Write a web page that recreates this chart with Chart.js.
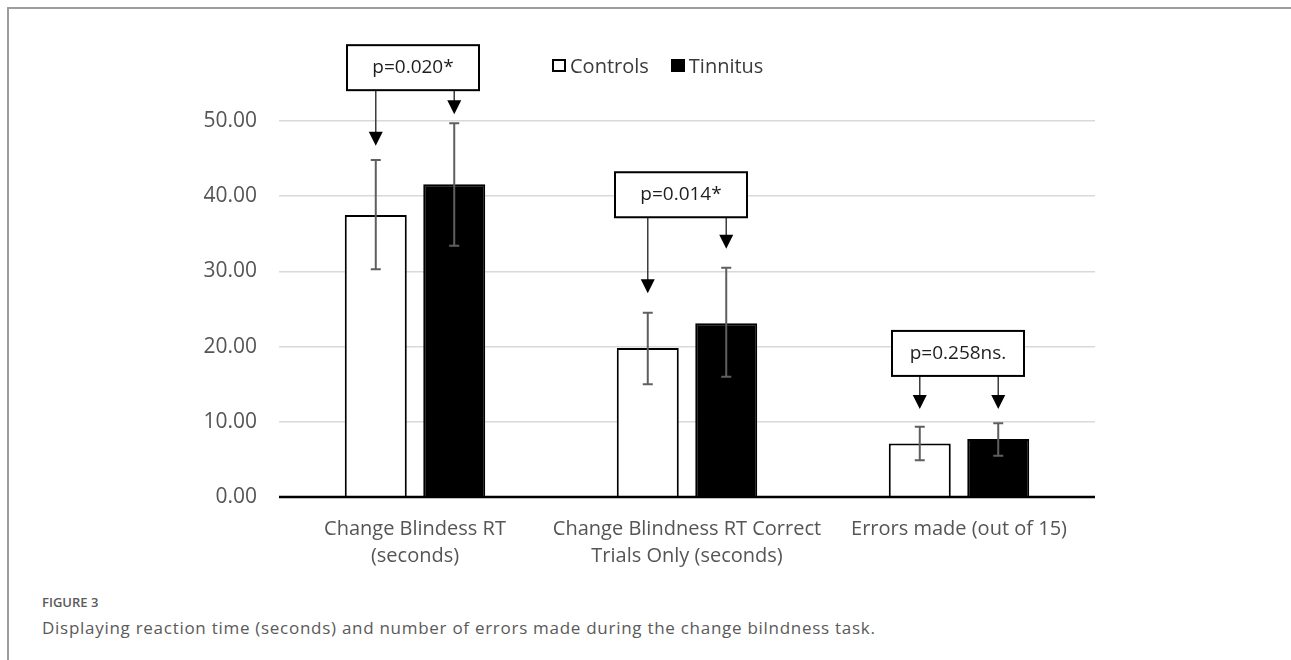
<!DOCTYPE html>
<html>
<head>
<meta charset="utf-8">
<script src="https://cdn.jsdelivr.net/npm/chart.js@4.4.1/dist/chart.umd.min.js"></script>
<style>
    html, body { margin: 0; padding: 0; background: #fff; }
    body { width: 1291px; height: 660px; position: relative; overflow: hidden; font-family: 'Open Sans', sans-serif; }
    .frame { position: absolute; left: 7px; top: 7px; width: 1300px; height: 700px; border-left: 2px solid #9d9d9d; border-top: 2px solid #9d9d9d; }
    .chart-wrap { position: absolute; left: 0; top: 0; width: 1291px; height: 590px; }
    .legend { position: absolute; top: 52px; left: 552px; font-size: 20px; color: #3a3a3a; display: flex; align-items: center; white-space: nowrap; }
    .legend__sw { display: inline-block; box-sizing: border-box; width: 14px; height: 13px; border: 2px solid #000; margin-right: 4px; }
    .legend__sw--dark { background: #000; margin-left: 22px; }
    .caption-label { position: absolute; left: 42px; top: 593px; font-size: 13px; font-weight: 600; color: #5a5a5a; }
    .caption-text { position: absolute; left: 42px; top: 616px; font-size: 17px; letter-spacing: 0.72px; color: #5a5a5a; }
</style>
</head>
<body>
<div class="frame"></div>
<div class="chart-wrap"><canvas id="chart"></canvas></div>
<div class="legend">
    <span class="legend__sw"></span><span>Controls</span>
    <span class="legend__sw legend__sw--dark"></span><span>Tinnitus</span>
</div>
<div class="caption-label">FIGURE 3</div>
<div class="caption-text">Displaying reaction time (seconds) and number of errors made during the change bilndness task.</div>

<script>
const categories = [
    ['Change Blindess RT', '(seconds)'],
    ['Change Blindness RT Correct', 'Trials Only (seconds)'],
    'Errors made (out of 15)',
];
const controlsMean = [37.5, 19.8, 7.1];
const tinnitusMean = [41.6, 23.1, 7.7];
const controlsLow = [30.3, 15.0, 4.9];
const controlsHigh = [44.8, 24.5, 9.35];
const tinnitusLow = [33.4, 16.0, 5.5];
const tinnitusHigh = [49.7, 30.5, 9.8];
const yTicks = [0, 10, 20, 30, 40, 50];

// significance boxes
const pLabels = ['p=0.020*', 'p=0.014*', 'p=0.258ns.'];
const boxBottom = [54.1, 37.2, 16.1];
const arrowTipControls = [46.7, 27.1, 11.7];
const arrowTipTinnitus = [50.9, 33.0, 11.7];

const BOX_W = 132;
const BOX_H = 45;
const BOX_SHIFT = [-2, -6, -1];

Chart.defaults.font.family = "'Open Sans', sans-serif";
Chart.defaults.font.size = 20;
Chart.defaults.color = '#595959';

const overlay = {
    id: 'overlay',
    afterDatasetsDraw(chart) {
        const ctx = chart.ctx;
        const x = chart.scales.x;
        const y = chart.scales.y;
        const area = chart.chartArea;
        const metaC = chart.getDatasetMeta(0);
        const metaT = chart.getDatasetMeta(1);

        ctx.save();

        // error bars
        ctx.strokeStyle = '#5f5f5f';
        ctx.lineWidth = 2;
        const errs = [[metaC, controlsLow, controlsHigh], [metaT, tinnitusLow, tinnitusHigh]];
        errs.forEach(([meta, lo, hi]) => {
            meta.data.forEach((bar, i) => {
                const yl = y.getPixelForValue(lo[i]);
                const yh = y.getPixelForValue(hi[i]);
                ctx.beginPath();
                ctx.moveTo(bar.x, yl);
                ctx.lineTo(bar.x, yh);
                ctx.moveTo(bar.x - 5, yl);
                ctx.lineTo(bar.x + 5, yl);
                ctx.moveTo(bar.x - 5, yh);
                ctx.lineTo(bar.x + 5, yh);
                ctx.stroke();
            });
        });

        // x axis line
        const y0 = y.getPixelForValue(0);
        ctx.strokeStyle = '#000';
        ctx.lineWidth = 2.5;
        ctx.beginPath();
        ctx.moveTo(area.left, y0);
        ctx.lineTo(area.right, y0);
        ctx.stroke();

        // p-value boxes with arrows
        pLabels.forEach((label, i) => {
            const cx = x.getPixelForValue(i) + BOX_SHIFT[i];
            const bottom = y.getPixelForValue(boxBottom[i]);
            const top = bottom - BOX_H;

            [[metaC.data[i].x, arrowTipControls[i]], [metaT.data[i].x, arrowTipTinnitus[i]]].forEach(([ax, tip]) => {
                const ty = y.getPixelForValue(tip);
                ctx.strokeStyle = '#3c3c3c';
                ctx.lineWidth = 1.5;
                ctx.beginPath();
                ctx.moveTo(ax, bottom);
                ctx.lineTo(ax, ty - 13);
                ctx.stroke();
                ctx.fillStyle = '#000';
                ctx.beginPath();
                ctx.moveTo(ax - 7, ty - 14);
                ctx.lineTo(ax + 7, ty - 14);
                ctx.lineTo(ax, ty);
                ctx.closePath();
                ctx.fill();
            });

            ctx.fillStyle = '#fff';
            ctx.fillRect(cx - BOX_W / 2, top, BOX_W, BOX_H);
            ctx.strokeStyle = '#000';
            ctx.lineWidth = 2;
            ctx.strokeRect(cx - BOX_W / 2, top, BOX_W, BOX_H);
            ctx.fillStyle = '#1e1e1e';
            ctx.font = "19px 'Open Sans', sans-serif";
            ctx.textAlign = 'center';
            ctx.textBaseline = 'middle';
            ctx.fillText(label, cx, top + BOX_H / 2);
        });

        ctx.restore();
    },
};

new Chart(document.getElementById('chart'), {
    type: 'bar',
    plugins: [overlay],
    data: {
        labels: categories,
        datasets: [
            {
                label: 'Controls',
                data: controlsMean,
                backgroundColor: '#fff',
                borderColor: '#000',
                borderWidth: 2,
            },
            {
                label: 'Tinnitus',
                data: tinnitusMean,
                backgroundColor: '#000',
                borderColor: '#000',
                borderWidth: 2,
            },
        ],
    },
    options: {
        responsive: true,
        maintainAspectRatio: false,
        animation: false,
        devicePixelRatio: 1,
        events: [],
        categoryPercentage: 0.577,
        barPercentage: 0.79,
        layout: {
            padding: { top: 121, right: 196, left: 0, bottom: 0 },
        },
        plugins: {
            legend: { display: false },
            tooltip: { enabled: false },
        },
        scales: {
            x: {
                grid: { display: false },
                border: { display: false },
                ticks: {
                    color: '#555',
                    padding: 11,
                    maxRotation: 0,
                    autoSkip: false,
                    font: { size: 20, lineHeight: 1.35 },
                },
                afterFit(scale) {
                    scale.height = 93;
                },
            },
            y: {
                min: 0,
                max: 50,
                afterBuildTicks(scale) {
                    scale.ticks = yTicks.map((v) => ({ value: v }));
                },
                grid: { color: '#d9d9d9', lineWidth: 1.5, drawTicks: false },
                border: { display: false },
                ticks: {
                    color: '#555',
                    padding: 22,
                    font: { size: 21 },
                    callback: (v) => v.toFixed(2),
                },
                afterFit(scale) {
                    scale.width = 279;
                },
            },
        },
    },
});
</script>
</body>
</html>
